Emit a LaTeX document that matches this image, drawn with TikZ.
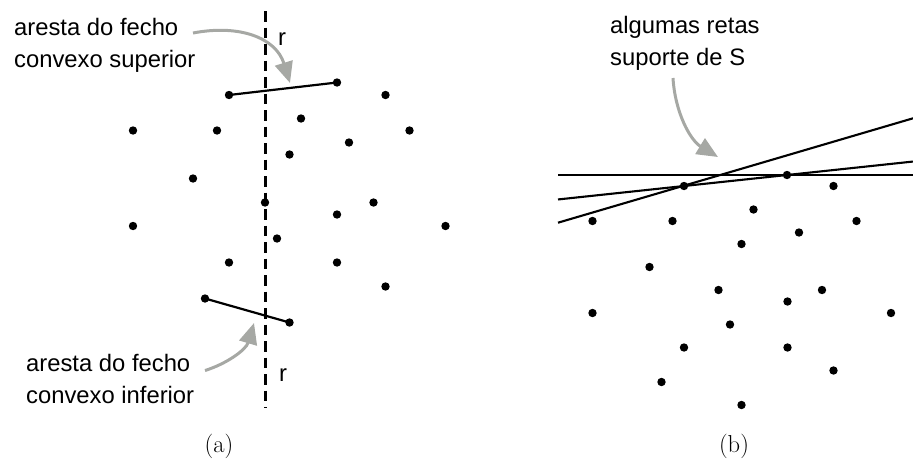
\documentclass[tikz,border=0pt]{standalone}
\usepackage{fontspec}
\newfontfamily\labelsans{Liberation Sans}
\usetikzlibrary{arrows.meta,calc}
\definecolor{arrowgray}{RGB}{166,168,164}
\tikzset{
  dot/.style={circle,fill=black,draw=none,inner sep=0pt,minimum size=8.4pt},
  lbl/.style={font=\labelsans\fontsize{23.8}{28}\selectfont,inner sep=0pt,anchor=base west},
  captxt/.style={font=\fontsize{24.5}{28}\selectfont,inner sep=0pt,anchor=base},
  edgeline/.style={line width=2.2pt,black},
  supline/.style={line width=2.1pt,black},
  cutline/.style={line width=3pt,black,dash pattern=on 10.5pt off 6pt},
  pointer/.style={line width=3pt,arrowgray,-{Triangle[length=21pt,width=18pt]}}
}
\begin{document}
\begin{tikzpicture}[x=1pt,y=-1pt]
\useasboundingbox (0,0) rectangle (913,459);

% ---------- panel (a) ----------
\coordinate (rtop) at (265,11);
\coordinate (rbot) at (265,408);
\draw[cutline] (rtop) -- (rbot);

\node[dot] (u1) at (229,95) {};
\node[dot] (u2) at (337,82.5) {};
\node[dot] (a3) at (385.5,95) {};
\node[dot] (a4) at (301,118.5) {};
\node[dot] (a5) at (133,130.5) {};
\node[dot] (a6) at (217,130.5) {};
\node[dot] (a7) at (409.5,130.5) {};
\node[dot] (a8) at (349,142.5) {};
\node[dot] (a9) at (289.5,154.5) {};
\node[dot] (a10) at (193,178.5) {};
\node[dot] (a11) at (265,202.5) {};
\node[dot] (a12) at (373.5,202.5) {};
\node[dot] (a13) at (337,214.5) {};
\node[dot] (a14) at (133,226) {};
\node[dot] (a15) at (445.5,226) {};
\node[dot] (a16) at (277,238.5) {};
\node[dot] (a17) at (229,262.5) {};
\node[dot] (a18) at (337,262.5) {};
\node[dot] (a19) at (385.5,286.5) {};
\node[dot] (l1) at (205,298.5) {};
\node[dot] (l2) at (289.5,322.5) {};

\draw[edgeline] (u1.center) -- (u2.center);
\draw[edgeline] (l1.center) -- (l2.center);

\node[lbl] (t1a) at (14,35) {aresta do fecho};
\node[lbl] (t1b) at (14,67) {convexo superior};
\node[lbl] (t2a) at (26,371.5) {aresta do fecho};
\node[lbl] (t2b) at (26,403.5) {convexo inferior};
\node[lbl] (rup) at (278,45.5) {r};
\node[lbl] (rlow) at (279,381.5) {r};

\coordinate (p1s) at (193,33);
\coordinate (p1e) at (290,83);
\draw[pointer] (p1s) .. controls (240,24) and (276,38) .. (p1e);
\coordinate (p2s) at (205,370.5);
\coordinate (p2e) at (254,323);
\draw[pointer] (p2s) .. controls (226,364) and (246,350) .. (p2e);

\node[captxt] (capa) at (219,452) {(a)};

% ---------- panel (b) ----------
\coordinate (h1) at (558,175);
\coordinate (h2) at (913,175);
\coordinate (s1) at (558,222.7);
\coordinate (s2) at (913,118.3);
\coordinate (b1p) at (684,186);
\coordinate (b2p) at (787,175);
\draw[supline] (h1) -- (h2);
\draw[supline] ($(b1p)!-1.2233!(b2p)$) -- ($(b1p)!2.2233!(b2p)$);
\draw[supline] (s1) -- (s2);

\node[dot] (b1) at (b1p) {};
\node[dot] (b2) at (b2p) {};
\node[dot] (b3) at (833.5,186) {};
\node[dot] (b4) at (753.5,209.5) {};
\node[dot] (b5) at (592.5,221) {};
\node[dot] (b6) at (672.5,221) {};
\node[dot] (b7) at (856.5,221) {};
\node[dot] (b8) at (799,232.5) {};
\node[dot] (b9) at (741.5,244) {};
\node[dot] (b10) at (649.5,267) {};
\node[dot] (b11) at (718.5,290) {};
\node[dot] (b12) at (822,290) {};
\node[dot] (b13) at (787.5,301.5) {};
\node[dot] (b14) at (592.5,313) {};
\node[dot] (b15) at (891,313) {};
\node[dot] (b16) at (730,324.5) {};
\node[dot] (b17) at (684,347.5) {};
\node[dot] (b18) at (787.5,347.5) {};
\node[dot] (b19) at (833.5,370.5) {};
\node[dot] (b20) at (661.5,382) {};
\node[dot] (b21) at (741.5,405) {};

\node[lbl] (t3a) at (610,33.5) {algumas retas};
\node[lbl] (t3b) at (610,65.5) {suporte de S};

\coordinate (p3s) at (673,78);
\coordinate (p3e) at (718,157);
\draw[pointer] (p3s) .. controls (675,112) and (690,140) .. (p3e);

\node[captxt] (capb) at (734,452) {(b)};
\end{tikzpicture}
\end{document}
